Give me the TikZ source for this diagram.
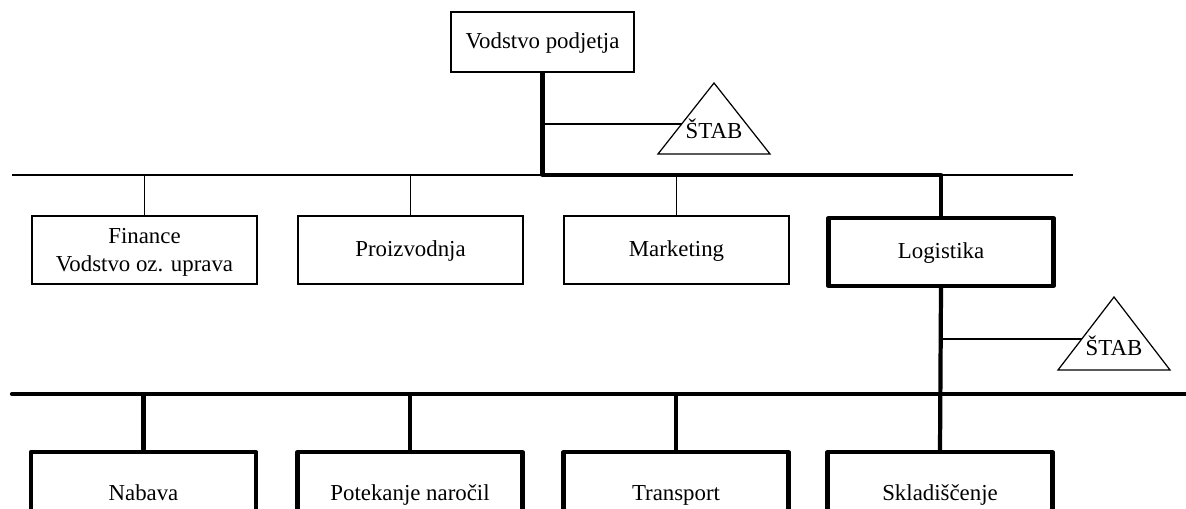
\documentclass[tikz,border=0pt]{standalone}
\usepackage{fontspec}
\setmainfont{Liberation Serif}

\begin{document}
\begin{tikzpicture}[x=0.02cm,y=-0.02cm,
  font=\fontsize{13}{15.6}\selectfont,
  thin/.style={line width=0.7pt},
  bold/.style={line width=2.4pt,line join=round},
  frame/.style={draw,thin,minimum width=4.5cm,minimum height=1.36cm,align=center,inner sep=0pt},
  unit/.style={frame,text height=1.5ex,text depth=0pt},
  boldunit/.style={unit,bold},
  lowunit/.style={boldunit,minimum height=1.68cm}]
\useasboundingbox (0,0) rectangle (1186,509);
\clip (0,0) rectangle (1186,509);

\node[unit,minimum width=3.66cm,minimum height=1.2cm] (top) at (542.5,42) {Vodstvo podjetja};

\node[frame,text depth=0pt] (fin) at (144.5,250) {Finance\\Vodstvo oz. uprava};
\node[unit] (pro) at (410.5,250) {Proizvodnja};
\node[unit] (mar) at (676.5,250) {Marketing};
\node[boldunit] (log) at (941,252) {Logistika};

\node[lowunit] (nab) at (143.5,494) {Nabava};
\node[lowunit] (pot) at (410,494) {Potekanje naročil};
\node[lowunit] (tra) at (676,494) {Transport};
\node[lowunit] (skl) at (940,494) {Skladiščenje};

\coordinate (bus1) at (12,175);
\coordinate (bus1e) at (1073,175);
\coordinate (bus2) at (12,394);
\coordinate (bus2e) at (1190,394);

\coordinate (S1T) at (714,83);
\coordinate (S1L) at (658,154);
\coordinate (S1R) at (770,154);
\coordinate (S1C) at (682,124);
\coordinate (S2T) at (1114,297);
\coordinate (S2L) at (1058,370);
\coordinate (S2R) at (1170,370);
\coordinate (S2C) at (1082,339);

\draw[thin] (S1T) -- (S1L) -- (S1R) -- cycle;
\draw[thin] (S2T) -- (S2L) -- (S2R) -- cycle;
\node[text height=1.5ex,text depth=0pt] (stab1) at (714,132) {ŠTAB};
\node[text height=1.5ex,text depth=0pt] (stab2) at (1114,349) {ŠTAB};

% upper level
\draw[thin] (bus1) -- (bus1e);
\draw[thin] (fin.north) -- (fin.north |- bus1);
\draw[thin] (pro.north) -- (pro.north |- bus1);
\draw[thin] (mar.north) -- (mar.north |- bus1);
\draw[thin] (top.south |- S1C) -- (S1C);
\draw[bold] (top.south) -- (top.south |- bus1) -- (log.north |- bus1) -- (log.north);

% lower level
\draw[bold,line cap=round] (bus2) -- (bus2e);
\draw[bold] (nab.north) -- (nab.north |- bus2);
\draw[bold] (pot.north) -- (pot.north |- bus2);
\draw[bold] (tra.north) -- (tra.north |- bus2);
\draw[bold] (log.south) -- (skl.north);
\draw[thin] (log.south |- S2C) -- (S2C);

\end{tikzpicture}
\end{document}
